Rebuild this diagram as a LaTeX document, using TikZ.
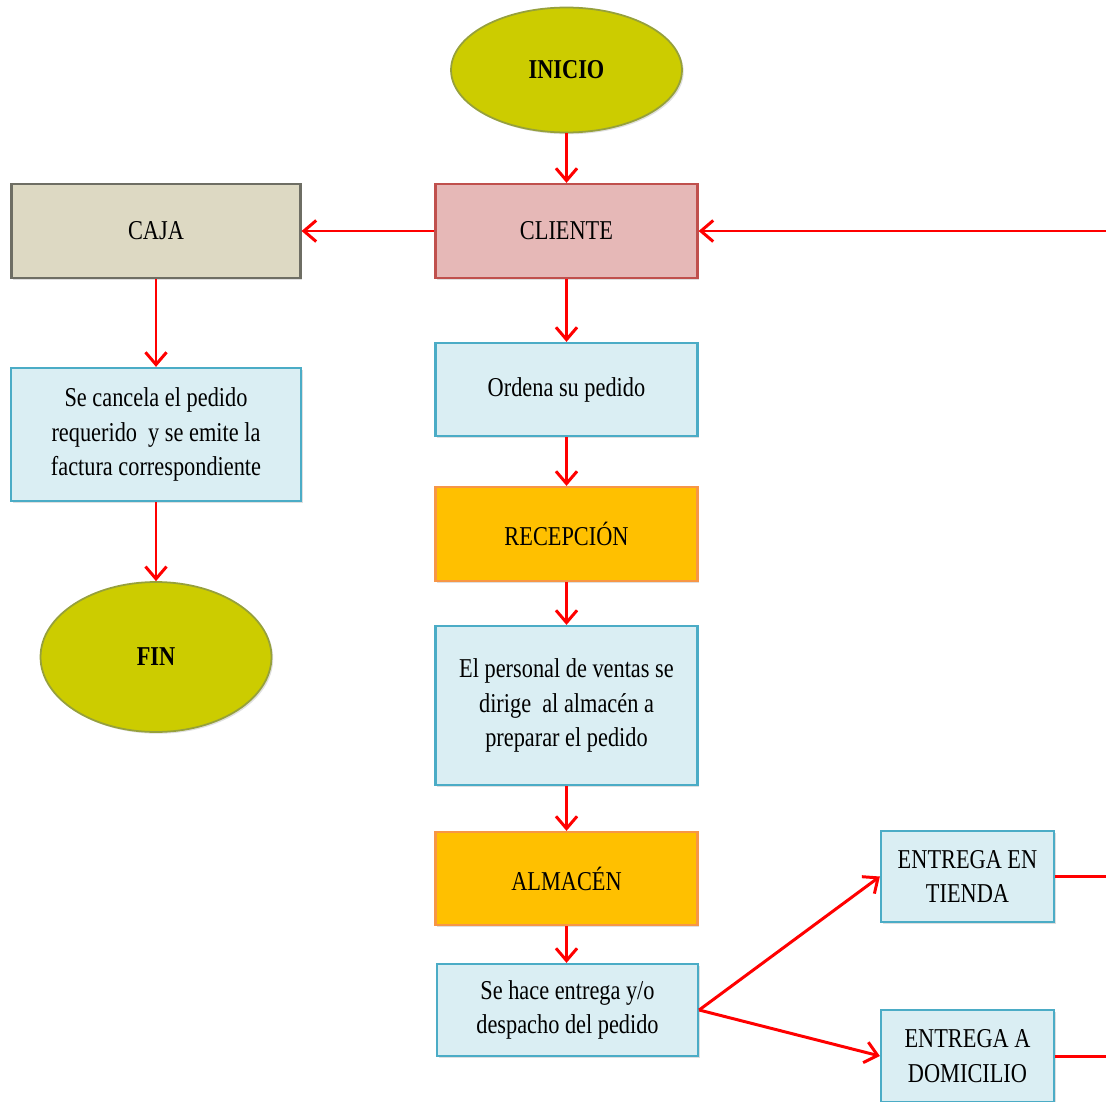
\documentclass[tikz,border=0pt]{standalone}
\usepackage{fontspec}
\setmainfont{Liberation Serif}[FakeStretch=0.82]
\usetikzlibrary{shapes.geometric, arrows.meta, shadows}

\definecolor{olivefill}{RGB}{204,204,0}
\definecolor{olivedraw}{RGB}{150,160,60}
\definecolor{pinkfill}{RGB}{230,184,183}
\definecolor{pinkdraw}{RGB}{192,80,77}
\definecolor{cajafill}{RGB}{221,217,195}
\definecolor{cajadraw}{RGB}{110,110,100}
\definecolor{bluefill}{RGB}{218,238,243}
\definecolor{bluedraw}{RGB}{75,172,198}
\definecolor{orangefill}{RGB}{255,192,0}
\definecolor{orangedraw}{RGB}{247,150,70}

\begin{document}
\begin{tikzpicture}[x=0.02cm, y=-0.02cm,
                    font=\fontsize{15.5pt}{19.6pt}\selectfont,
                    box/.style={rectangle, draw, line width=1.3pt, inner sep=2pt,
                                align=center, minimum width=5.24cm, minimum height=1.88cm,
                                drop shadow={opacity=0.25, shadow xshift=1pt, shadow yshift=-1pt}},
                    terminal/.style={ellipse, draw=olivedraw, fill=olivefill, line width=1pt,
                                     inner sep=0pt, minimum width=4.62cm, font=\fontsize{15.5pt}{19.6pt}\selectfont\bfseries,
                                     drop shadow={opacity=0.25, shadow xshift=1pt, shadow yshift=-1pt}},
                    step box/.style={box, draw=bluedraw, fill=bluefill},
                    area box/.style={box, draw=orangedraw, fill=orangefill},
                    flow/.style={draw=red, line width=1.7pt, -{Straight Barb[length=7pt, width=12pt, line width=1.7pt]}}]
  \useasboundingbox (0, 0) rectangle (1106, 1102);
  \clip (0, 0) rectangle (1106, 1102);

  % Main column.
  \node at (566.5, 70) [terminal, minimum height=2.5cm, name=Inicio] {INICIO};
  \node at (566.5, 231) [box, draw=pinkdraw, fill=pinkfill, name=Cliente] {CLIENTE};
  \node at (566.5, 389.5) [step box, minimum height=1.86cm, name=Ordena] {Ordena su pedido};
  \node at (566.5, 534) [area box, name=Recepcion] {RECEPCIÓN};
  \node at (566.5, 705.5) [step box, minimum height=3.18cm, name=Personal]
        {El personal de ventas se\\dirige \ al almacén a\\preparar el pedido};
  \node at (566.5, 878.5) [area box, minimum height=1.86cm, name=Almacen] {ALMACÉN};
  \node at (567.5, 1010) [step box, minimum width=5.22cm, minimum height=1.84cm, name=Despacho]
        {Se hace entrega y/o\\despacho del pedido};

  % Payment column.
  \node at (156, 231) [box, draw=cajadraw, fill=cajafill, minimum width=5.78cm, name=Caja] {CAJA};
  \node at (156, 434.5) [step box, minimum width=5.8cm, minimum height=2.66cm, name=Cancela]
        {Se cancela el pedido\\requerido \ y se emite la\\factura correspondiente};
  \node at (156, 657) [terminal, minimum height=3cm, name=Fin] {FIN};

  % Delivery options.
  \node at (967.5, 876.5) [step box, minimum width=3.46cm, minimum height=1.82cm, name=Tienda]
        {ENTREGA EN\\TIENDA};
  \node at (967.5, 1056) [step box, minimum width=3.46cm, minimum height=1.84cm, name=Domicilio]
        {ENTREGA A\\DOMICILIO};

  % Return line leaves the picture on the right.
  \coordinate (tiendaOut) at (1108, 876.5);
  \coordinate (domicilioOut) at (1108, 1056);
  \coordinate (clienteIn) at (1108, 231);

  % Flow.
  \draw [flow] (Inicio) to (Cliente);
  \draw [flow] (Cliente) to (Caja);
  \draw [flow] (Cliente) to (Ordena);
  \draw [flow] (Ordena) to (Recepcion);
  \draw [flow] (Recepcion) to (Personal);
  \draw [flow] (Personal) to (Almacen);
  \draw [flow] (Almacen.south) to (Almacen.south |- Despacho.north);
  \draw [flow] (Despacho.east) to (Tienda.west);
  \draw [flow] (Despacho.east) to (Domicilio.west);
  \draw [flow] (Caja) to (Cancela);
  \draw [flow] (Cancela) to (Fin);
  \draw [flow, -] (Tienda) to (tiendaOut);
  \draw [flow, -] (Domicilio) to (domicilioOut);
  \draw [flow] (clienteIn) to (Cliente);
\end{tikzpicture}
\end{document}
